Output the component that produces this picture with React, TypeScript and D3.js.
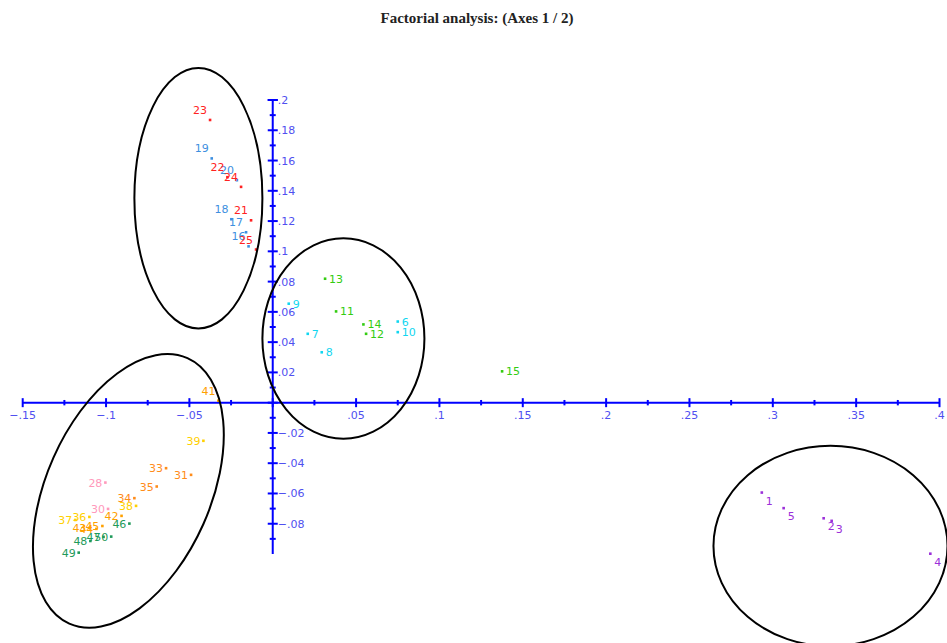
import * as d3 from 'd3';

// observations: id, factor 1, factor 2, group
const obsIds = [1, 2, 3, 4, 5, 6, 7, 8, 9, 10, 11, 12, 13, 14, 15, 16, 17, 18, 19, 20, 21, 22, 23, 24, 25, 28, 30, 31, 33, 34, 35, 36, 37, 38, 39, 41, 42, 43, 44, 45, 46, 47, 48, 49, 50];
const axis1 = [0.2934, 0.3305, 0.3353, 0.3945, 0.3065, 0.075, 0.021, 0.0294, 0.0096, 0.075, 0.038, 0.056, 0.0314, 0.0544, 0.1376, -0.0145, -0.016, -0.0248, -0.0366, -0.0215, -0.013, -0.0272, -0.0376, -0.019, -0.01, -0.1004, -0.0988, -0.049, -0.064, -0.083, -0.0696, -0.11, -0.1184, -0.082, -0.0416, -0.0326, -0.0907, -0.11, -0.1058, -0.1022, -0.086, -0.1015, -0.1094, -0.1164, -0.0969];
const axis2 = [-0.0594, -0.0764, -0.0781, -0.0998, -0.0697, 0.0536, 0.0455, 0.0333, 0.0654, 0.0466, 0.0603, 0.0455, 0.0819, 0.0517, 0.0207, 0.1033, 0.1126, 0.1212, 0.1614, 0.147, 0.1205, 0.149, 0.1868, 0.1426, 0.1012, -0.0528, -0.0702, -0.0477, -0.0433, -0.0631, -0.0554, -0.0755, -0.0775, -0.0682, -0.0252, 0.0013, -0.0748, -0.0828, -0.0834, -0.0815, -0.0799, -0.0887, -0.0914, -0.0991, -0.0885];
const groupColors = ['#9b30d9', '#11d6f0', '#33cc11', '#3d8fe0', '#ff2222', '#ff99bb', '#ff8c1a', '#ffd000', '#ffa000', '#1f9a5a'];

// tick values
const xMajor = [-0.15, -0.1, -0.05, 0.05, 0.1, 0.15, 0.2, 0.25, 0.3, 0.35, 0.4];
const yMajor = [-0.08, -0.06, -0.04, -0.02, 0.02, 0.04, 0.06, 0.08, 0.1, 0.12, 0.14, 0.16, 0.18, 0.2];

// hand drawn ellipses around clusters (data units)
const ellipseCx = [-0.0446, 0.0424, -0.0866, 0.3346];
const ellipseCy = [0.1351, 0.0424, -0.0583, -0.0947];
const ellipseRx = [0.0384, 0.0486, 0.0492, 0.0702];
const ellipseRy = [0.0861, 0.0662, 0.096, 0.0662];
const ellipseTilt = [0, 0, 24, 0];

const fmt = (v: number) => {
  const s = d3.format('.2~f')(v);
  return s.replace('0.', '.');
};

export default function App() {
  const x = d3.scaleLinear().domain([-0.15, 0.4]).range([22.7, 939.5]);
  const y = d3.scaleLinear().domain([-0.1, 0.2]).range([554, 100]);
  const x0 = x(0);
  const y0 = y(0);
  const kx = x(1) - x(0);
  const ky = y(0) - y(1);

  const xTicks = d3.range(-0.15, 0.4001, 0.025);
  const yTicks = d3.range(-0.09, 0.2001, 0.01);
  const isMajor = (v: number, step: number) => Math.abs(v / step - Math.round(v / step)) < 1e-6;

  const font = '"DejaVu Sans", sans-serif';

  return (
    <svg width={947} height={643} style={{ position: 'absolute', left: 0, top: 0, background: '#fff' }}>
      <text x={477} y={23} textAnchor="middle" fontFamily='"Liberation Serif", serif' fontWeight="bold" fontSize={15} fill="#222">
        Factorial analysis: (Axes 1 / 2)
      </text>

      {/* axes */}
      <g stroke="#0000ff" strokeWidth={2}>
        <line x1={x(-0.15)} x2={x(0.4)} y1={y0} y2={y0} />
        <line x1={x0} x2={x0} y1={y(0.2)} y2={y(-0.1)} />
        {xTicks.map((t, i) => {
          const len = isMajor(t, 0.05) ? 4.5 : 2.7;
          return <line key={'xt' + i} x1={x(t)} x2={x(t)} y1={y0 - len} y2={y0 + len} />;
        })}
        {yTicks.map((t, i) => {
          const len = isMajor(t, 0.02) ? 5 : 3;
          return <line key={'yt' + i} x1={x0 - len} x2={x0 + len} y1={y(t)} y2={y(t)} />;
        })}
        <line x1={x0 - 5} x2={x0 + 5} y1={y(0.2)} y2={y(0.2)} />
      </g>
      <g fontFamily={font} fontSize={11} fill="#5050f0">
        {xMajor.map((t) => (
          <text key={'xl' + t} x={x(t)} y={y0 + 16} textAnchor="middle">{fmt(t)}</text>
        ))}
        {yMajor.map((t) => (
          <text key={'yl' + t} x={x0 + 5} y={y(t) + 4} textAnchor="start">{fmt(t)}</text>
        ))}
      </g>

      {/* observations */}
      <g fontFamily={font} fontSize={11}>
        {obsIds.map((id, i) => {
          const px = x(axis1[i]);
          const py = y(axis2[i]);
          const c = groupColors[Math.floor((id - 1) / 5)];
          const left = axis1[i] < 0;
          const up = axis2[i] > 0;
          let tx = px + 4;
          let ty = py + 4;
          let anchor = 'start';
          if (left) {
            tx = px - 3;
            anchor = 'end';
            ty = up ? py - 6 : py + 4;
          } else if (!up) {
            ty = py + 12;
          }
          return (
            <g key={'o' + id}>
              <rect x={px - 1.3} y={py - 1.3} width={2.6} height={2.6} fill={c} />
              <text x={tx} y={ty} textAnchor={anchor} fill={c}>{id}</text>
            </g>
          );
        })}
      </g>

      {/* cluster ellipses */}
      <g fill="none" stroke="#000" strokeWidth={2}>
        {ellipseCx.map((cx, i) => (
          <ellipse
            key={'e' + i}
            cx={x(cx)}
            cy={y(ellipseCy[i])}
            rx={ellipseRx[i] * kx}
            ry={ellipseRy[i] * ky}
            transform={`rotate(${ellipseTilt[i]} ${x(cx)} ${y(ellipseCy[i])})`}
          />
        ))}
      </g>
    </svg>
  );
}
